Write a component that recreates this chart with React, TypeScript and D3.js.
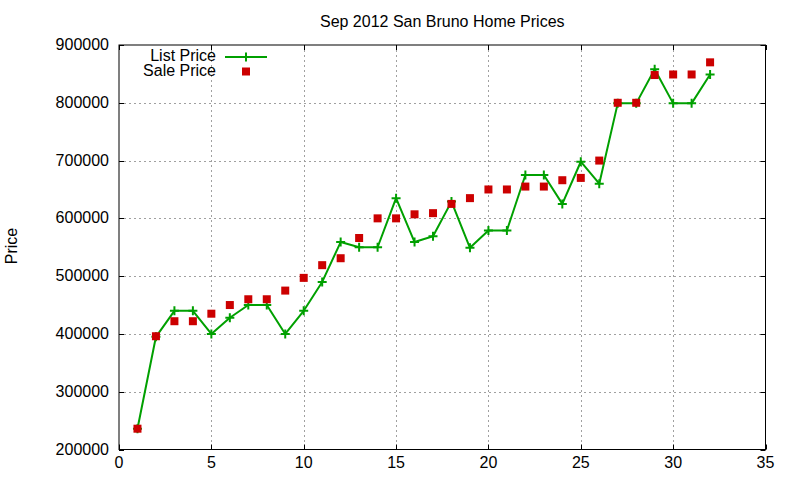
import React, { useRef, useEffect } from 'react';
import * as d3 from 'd3';

const houseIndex = d3.range(1, 33);
const listPrice = [
  236000, 395000, 440000, 440000, 400000, 428000, 450000, 450000, 400000, 440000,
  490000, 559000, 550000, 550000, 635000, 559000, 569000, 629000, 549000, 579000,
  579000, 675000, 675000, 625000, 698000, 660000, 799000, 799000, 858000, 799000,
  799000, 849000,
];
const salePrice = [
  236000, 396000, 422000, 422000, 435000, 450000, 460000, 460000, 475000, 497000,
  519000, 531000, 566000, 600000, 600000, 607000, 609000, 625000, 635000, 650000,
  650000, 655000, 655000, 666000, 670000, 700000, 800000, 800000, 848000, 849000,
  849000, 870000,
];
const xTicks = [0, 5, 10, 15, 20, 25, 30, 35];
const yTicks = [200000, 300000, 400000, 500000, 600000, 700000, 800000, 900000];

const GREEN = '#00a000';
const RED = '#cc0000';
const FONT = '"Liberation Sans", Arial, sans-serif';

const App: React.FC = () => {
  const svgRef = useRef<SVGSVGElement>(null);

  useEffect(() => {
    if (!svgRef.current) return;
    const svg = d3.select(svgRef.current);
    svg.selectAll('*').remove();

    const left = 119, right = 765.5, top = 45, bottom = 449.5;

    const x = d3.scaleLinear().domain([0, 35]).range([left, right]);
    const y = d3.scaleLinear().domain([200000, 900000]).range([bottom, top]);

    svg.append('rect').attr('width', 800).attr('height', 480).attr('fill', '#fff');

    // grid
    const grid = svg.append('g')
      .attr('stroke', '#a0a0a0')
      .attr('stroke-width', 1)
      .attr('stroke-dasharray', '2,3');
    grid.selectAll('line.gx')
      .data(xTicks.slice(1, -1))
      .enter().append('line')
      .attr('x1', d => Math.round(x(d)) + 0.5).attr('x2', d => Math.round(x(d)) + 0.5)
      .attr('y1', top).attr('y2', bottom);
    grid.selectAll('line.gy')
      .data(yTicks.slice(1, -1))
      .enter().append('line')
      .attr('x1', left).attr('x2', right)
      .attr('y1', d => Math.round(y(d)) + 0.5).attr('y2', d => Math.round(y(d)) + 0.5);

    // ticks (inward, mirrored)
    const ticks = svg.append('g').attr('stroke', '#000').attr('stroke-width', 1);
    xTicks.forEach(t => {
      const px = Math.round(x(t)) + 0.5;
      ticks.append('line').attr('x1', px).attr('x2', px).attr('y1', bottom).attr('y2', bottom - 5);
      ticks.append('line').attr('x1', px).attr('x2', px).attr('y1', top).attr('y2', top + 5);
    });
    yTicks.forEach(t => {
      const py = Math.round(y(t)) + 0.5;
      ticks.append('line').attr('x1', left).attr('x2', left + 5).attr('y1', py).attr('y2', py);
      ticks.append('line').attr('x1', right).attr('x2', right - 5).attr('y1', py).attr('y2', py);
    });

    // border
    svg.append('rect')
      .attr('x', left).attr('y', top)
      .attr('width', right - left).attr('height', bottom - top)
      .attr('fill', 'none').attr('stroke', '#000').attr('stroke-width', 1);

    // tick labels
    const labels = svg.append('g')
      .attr('font-family', FONT).attr('font-size', 16).attr('fill', '#000');
    labels.selectAll('text.xl')
      .data(xTicks)
      .enter().append('text')
      .attr('x', d => x(d)).attr('y', bottom + 18)
      .attr('text-anchor', 'middle')
      .text(d => d);
    labels.selectAll('text.yl')
      .data(yTicks)
      .enter().append('text')
      .attr('x', left - 10).attr('y', d => y(d) + 5)
      .attr('text-anchor', 'end')
      .text(d => d);

    // title and axis label
    svg.append('text')
      .attr('x', (left + right) / 2).attr('y', 27)
      .attr('text-anchor', 'middle')
      .attr('font-family', FONT).attr('font-size', 16)
      .text('Sep 2012 San Bruno Home Prices');
    svg.append('text')
      .attr('transform', 'translate(17,246) rotate(-90)')
      .attr('text-anchor', 'middle')
      .attr('font-family', FONT).attr('font-size', 16)
      .text('Price');

    // list price line + markers
    const line = d3.line<number>()
      .x((d, i) => x(houseIndex[i]))
      .y(d => y(d));
    svg.append('path')
      .datum(listPrice)
      .attr('fill', 'none')
      .attr('stroke', GREEN)
      .attr('stroke-width', 2)
      .attr('stroke-linejoin', 'round')
      .attr('d', line);

    const plus = (cx: number, cy: number) => `M${cx - 4.5},${cy}H${cx + 4.5}M${cx},${cy - 4.5}V${cy + 4.5}`;
    svg.append('path')
      .attr('fill', 'none')
      .attr('stroke', GREEN)
      .attr('stroke-width', 2)
      .attr('d', listPrice.map((d, i) => plus(x(houseIndex[i]), y(d))).join(''));

    // sale price squares
    svg.append('g')
      .selectAll('rect')
      .data(salePrice)
      .enter().append('rect')
      .attr('x', (d, i) => x(houseIndex[i]) - 4)
      .attr('y', d => y(d) - 4)
      .attr('width', 8).attr('height', 8)
      .attr('fill', RED);

    // legend
    const legend = svg.append('g').attr('font-family', FONT).attr('font-size', 16);
    legend.append('text').attr('x', 216).attr('y', 61).attr('text-anchor', 'end').text('List Price');
    legend.append('text').attr('x', 216).attr('y', 76).attr('text-anchor', 'end').text('Sale Price');
    legend.append('line')
      .attr('x1', 225).attr('x2', 267).attr('y1', 57).attr('y2', 57)
      .attr('stroke', GREEN).attr('stroke-width', 2);
    legend.append('path')
      .attr('d', plus(246, 57))
      .attr('stroke', GREEN).attr('stroke-width', 2);
    legend.append('rect')
      .attr('x', 242).attr('y', 67.5).attr('width', 8).attr('height', 8)
      .attr('fill', RED);
  }, []);

  return (
    <div style={{ position: 'fixed', left: 0, top: 0, width: 800, height: 480 }}>
      <svg ref={svgRef} width={800} height={480} style={{ display: 'block' }} />
    </div>
  );
};

export default App;
